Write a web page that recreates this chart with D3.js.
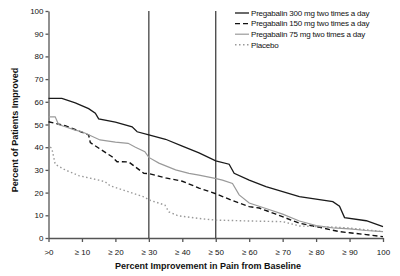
<!DOCTYPE html>
<html>
<head>
<meta charset="UTF-8">
<style>
	body { margin: 0; background: #fff; }
	text { font-family: "Liberation Sans", Arial, sans-serif; fill: #111; }
	.axis path, .axis line { stroke: #555; stroke-width: 1.3px; }
	.axis text { font-size: 8px; }
	.title { font-size: 9px; font-weight: bold; }
	.legend text { font-size: 8px; }
</style>
</head>
<body>
<script src="https://d3js.org/d3.v7.min.js"></script>
<script>
'use strict';

var width = 400, height = 276;
var margin = {top: 11, right: 17, bottom: 38, left: 48.5};

// percent improvement (x) and percent of patients improved (y)
var x300 = [0, 4, 8, 12, 14, 15, 20, 25, 26.5, 30, 35, 40, 45, 50, 54, 55.5, 60, 65, 75, 85, 87, 88.5, 95, 100];
var y300 = [61.5, 61.5, 59.5, 57, 55, 52.5, 51, 49, 46.8, 45.4, 43.5, 40.5, 37.5, 34, 32.5, 28.5, 25.5, 22.6, 18.2, 16, 14, 9, 7.6, 5];

var x150 = [0, 5, 12, 12.5, 19, 20.5, 24, 28.5, 30, 35, 40, 45, 50, 55, 60, 63, 68, 75, 80, 87, 90, 95, 100];
var y150 = [51.2, 49.5, 45.4, 42, 35.8, 33.6, 33.5, 28.5, 28.4, 26.5, 25, 22, 19.5, 16.5, 13.8, 13.2, 10.5, 6.5, 5, 2.8, 2.3, 1.5, 0.6];

var x75 = [0, 2, 3, 5, 8, 10, 12, 15.4, 20, 23.8, 26, 28.8, 30, 33, 38, 42, 45, 49.8, 52, 55, 57, 60, 65, 70, 75, 80, 85, 90, 95, 100];
var y75 = [53.4, 53.4, 50, 49, 47.5, 46.8, 45.5, 43.2, 42.2, 41.7, 40, 38, 35.5, 33, 30, 28.5, 27.7, 26.3, 25.5, 24, 19, 15.4, 13, 10.5, 7.5, 5.5, 4.5, 4, 3.3, 2.8];

var xPlacebo = [0.5, 1, 2, 5, 9, 15, 16.9, 18.4, 23.8, 28.8, 30, 34.8, 36, 38.7, 45, 49.8, 60, 70, 75, 85, 90, 100];
var yPlacebo = [40, 39.5, 32.5, 30, 27.5, 25.5, 24.8, 23, 20.4, 18, 16.8, 14.5, 11.5, 9.8, 8.6, 7.9, 7.5, 7.2, 5.3, 4.8, 4.4, 2.8];

var xTicks = [0, 10, 20, 30, 40, 50, 60, 70, 80, 90, 100];
var xTickLabels = [">0", "\u2265 10", "\u2265 20", "\u2265 30", "\u2265 40", "\u2265 50", "\u2265 60", "\u2265 70", "\u2265 80", "\u2265 90", "100"];
var yTicks = [0, 10, 20, 30, 40, 50, 60, 70, 80, 90, 100];
var refLines = [30, 50];

var seriesNames = ["Pregabalin 300 mg two times a day", "Pregabalin 150 mg two times a day", "Pregabalin 75 mg two times a day", "Placebo"];

var series = [
	{name: seriesNames[0], xs: x300, ys: y300, color: "#1a1a1a", dash: null, w: 1.3},
	{name: seriesNames[1], xs: x150, ys: y150, color: "#111", dash: "5,3", w: 1.4},
	{name: seriesNames[2], xs: x75, ys: y75, color: "#9a9a9a", dash: null, w: 1.2},
	{name: seriesNames[3], xs: xPlacebo, ys: yPlacebo, color: "#999", dash: "1.5,2.5", w: 1.4}
];

var svg = d3.select("body").append("svg")
	.attr("width", width)
	.attr("height", height);

var g = svg.append("g")
	.attr("transform", "translate(" + margin.left + "," + margin.top + ")");

var x = d3.scaleLinear().domain([0, 100]).range([0, 334.5]);
var y = d3.scaleLinear().domain([0, 100]).range([227, 0]);

g.append("g")
	.attr("class", "axis")
	.attr("transform", "translate(0," + y(0) + ")")
	.call(d3.axisBottom(x).tickValues(xTicks).tickSize(4).tickSizeOuter(0)
		.tickFormat(function(d, i){ return xTickLabels[i]; }))
	.selectAll("text").attr("dy", "1.2em");

g.append("g")
	.attr("class", "axis")
	.call(d3.axisLeft(y).tickValues(yTicks).tickSize(3).tickSizeOuter(0).tickPadding(2));

g.selectAll(".ref")
	.data(refLines)
	.enter().append("line")
	.attr("x1", function(d){ return x(d); })
	.attr("x2", function(d){ return x(d); })
	.attr("y1", y(100))
	.attr("y2", y(0))
	.attr("stroke", "#333")
	.attr("stroke-width", 1.2);

var line = d3.line()
	.x(function(d){ return x(d[0]); })
	.y(function(d){ return y(d[1]); });

g.selectAll(".series")
	.data(series)
	.enter().append("path")
	.attr("fill", "none")
	.attr("stroke", function(d){ return d.color; })
	.attr("stroke-width", function(d){ return d.w; })
	.attr("stroke-dasharray", function(d){ return d.dash; })
	.attr("d", function(d){ return line(d3.zip(d.xs, d.ys)); });

// legend
var legend = svg.append("g")
	.attr("class", "legend")
	.attr("transform", "translate(235,13)");

var items = legend.selectAll("g")
	.data(series)
	.enter().append("g")
	.attr("transform", function(d, i){ return "translate(0," + (i * 10.6) + ")"; });

items.append("line")
	.attr("x1", 0).attr("x2", 14)
	.attr("stroke", function(d){ return d.color; })
	.attr("stroke-width", function(d){ return d.w; })
	.attr("stroke-dasharray", function(d){ return d.dash; });

items.append("text")
	.attr("x", 16)
	.attr("dy", "0.35em")
	.style("letter-spacing", "-0.2px")
	.text(function(d){ return d.name; });

svg.append("text")
	.attr("class", "title")
	.attr("x", 208)
	.attr("y", 269)
	.attr("text-anchor", "middle")
	.text("Percent Improvement in Pain from Baseline");

svg.append("text")
	.attr("class", "title")
	.attr("transform", "translate(18,130) rotate(-90)")
	.attr("text-anchor", "middle")
	.text("Percent of Patients Improved");

</script>
</body>
</html>
